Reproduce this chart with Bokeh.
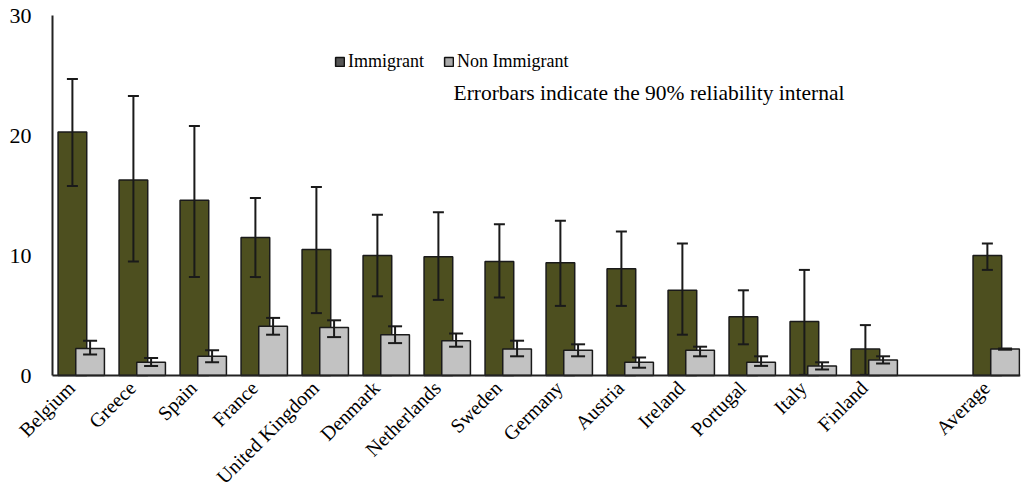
import math
from bokeh.plotting import figure
from bokeh.models import (ColumnDataSource, Range1d, FixedTicker,
                          Legend, LegendItem, Label, LabelSet)
from bokeh.embed import file_html
from bokeh.resources import INLINE

countries = ["Belgium", "Greece", "Spain", "France", "United Kingdom", "Denmark",
             "Netherlands", "Sweden", "Germany", "Austria", "Ireland", "Portugal",
             "Italy", "Finland", "Average"]
slots = [0, 1, 2, 3, 4, 5, 6, 7, 8, 9, 10, 11, 12, 13, 15]

immigrant = [20.3, 16.3, 14.6, 11.5, 10.5, 10.0, 9.9, 9.5, 9.4, 8.9, 7.1, 4.9, 4.5, 2.2, 10.0]
immigrant_lo = [15.8, 9.5, 8.2, 8.2, 5.2, 6.6, 6.3, 6.5, 5.8, 5.8, 3.4, 2.6, 0.05, 0.05, 8.8]
immigrant_hi = [24.7, 23.3, 20.8, 14.8, 15.7, 13.4, 13.6, 12.6, 12.9, 12.0, 11.0, 7.1, 8.8, 4.2, 11.0]

non_immigrant = [2.25, 1.1, 1.6, 4.1, 4.0, 3.4, 2.9, 2.2, 2.1, 1.1, 2.1, 1.1, 0.8, 1.3, 2.2]
non_immigrant_lo = [1.75, 0.8, 1.1, 3.4, 3.2, 2.7, 2.4, 1.6, 1.6, 0.65, 1.6, 0.8, 0.5, 1.0, 2.15]
non_immigrant_hi = [2.9, 1.45, 2.1, 4.8, 4.6, 4.1, 3.5, 2.9, 2.6, 1.5, 2.4, 1.6, 1.1, 1.6, 2.25]

y_ticks = [0, 10, 20, 30]

# layout constants (data units)
AXIS_LEFT = -0.471
AXIS_RIGHT = 15.398
OFF = 0.145
W = 0.47
FONT = "Liberation Serif"
EDGE = "#1a1a1a"

src_imm = ColumnDataSource(dict(x=[s - OFF for s in slots], top=immigrant,
                                lo=immigrant_lo, hi=immigrant_hi))
src_non = ColumnDataSource(dict(x=[s + OFF for s in slots], top=non_immigrant,
                                lo=non_immigrant_lo, hi=non_immigrant_hi))
src_lab = ColumnDataSource(dict(x=slots, y=[0] * len(slots), text=countries))

# the frame covers the canvas; axes are pinned inside it (fixed_location) so
# that the rotated category labels and the y tick labels are not clipped
p = figure(width=1030, height=490, output_backend="svg", toolbar_location=None,
           x_range=Range1d(-1.3238, AXIS_RIGHT), y_range=Range1d(-9.583, 31.25),
           min_border_left=0, min_border_right=10, min_border_top=0,
           min_border_bottom=0)
p.outline_line_color = None
p.xgrid.visible = False
p.ygrid.visible = False
p.background_fill_color = "white"
p.border_fill_color = "white"


def bars_with_errors(src, fill, cap):
    p.vbar(x="x", top="top", width=W, bottom=0, source=src,
           fill_color=fill, line_color=EDGE, line_width=1.5)
    p.segment(x0="x", y0="lo", x1="x", y1="hi", source=src,
              line_color=EDGE, line_width=2)
    p.scatter(x="x", y="hi", source=src, marker="dash", size=cap,
              line_color=EDGE, line_width=2)
    p.scatter(x="x", y="lo", source=src, marker="dash", size=cap,
              line_color=EDGE, line_width=2)


bars_with_errors(src_imm, "#4d4f1f", 11)
bars_with_errors(src_non, "#c2c2c2", 14)

# legend swatches (not drawn in the plot area)
nan = float("nan")
leg_imm = p.quad(left=[nan], right=[nan], top=[nan], bottom=[nan],
                 fill_color="#555555", line_color="#111111", line_width=1.5)
leg_non = p.quad(left=[nan], right=[nan], top=[nan], bottom=[nan],
                 fill_color="#aaaaaa", line_color="#111111", line_width=1.5)
legend = Legend(items=[LegendItem(label="Immigrant", renderers=[leg_imm]),
                       LegendItem(label="Non Immigrant", renderers=[leg_non])],
                orientation="horizontal", location=(334, 418),
                glyph_width=11, glyph_height=11, label_standoff=3, spacing=19,
                padding=0, margin=0, border_line_color=None,
                background_fill_alpha=0, label_text_font=FONT,
                label_text_font_size="18px", label_text_color="black",
                label_height=20)
p.add_layout(legend, "center")

p.add_layout(Label(x=453, y=398, x_units="screen", y_units="screen",
                   text="Errorbars indicate the 90% reliability internal",
                   text_font=FONT, text_font_size="21.5px", text_color="black",
                   text_baseline="middle"))

# category labels, rotated
p.add_layout(LabelSet(x="x", y="y", text="text", source=src_lab,
                      angle=math.pi / 4, text_align="right", text_baseline="middle",
                      x_offset=-10, y_offset=-9, text_font=FONT,
                      text_font_size="20px", text_color="black"))

# axes
p.yaxis.fixed_location = AXIS_LEFT
p.yaxis.ticker = FixedTicker(ticks=y_ticks)
p.yaxis.bounds = (0, 30)
p.yaxis.major_tick_out = 0
p.yaxis.major_tick_in = 0
p.yaxis.minor_tick_out = 0
p.yaxis.minor_tick_in = 0
p.yaxis.major_label_standoff = 21
p.yaxis.major_label_text_font = FONT
p.yaxis.major_label_text_font_size = "22px"
p.yaxis.major_label_text_color = "black"
p.yaxis.axis_line_width = 2
p.yaxis.axis_line_color = "#222222"

p.xaxis.fixed_location = 0
p.xaxis.ticker = FixedTicker(ticks=slots)
p.xaxis.major_label_overrides = {s: "" for s in slots}
p.xaxis.bounds = (AXIS_LEFT, AXIS_RIGHT)
p.xaxis.major_tick_out = 0
p.xaxis.major_tick_in = 0
p.xaxis.minor_tick_out = 0
p.xaxis.minor_tick_in = 0
p.xaxis.axis_line_width = 2
p.xaxis.axis_line_color = "#222222"

open("out.html", "w").write(file_html(p, INLINE))
